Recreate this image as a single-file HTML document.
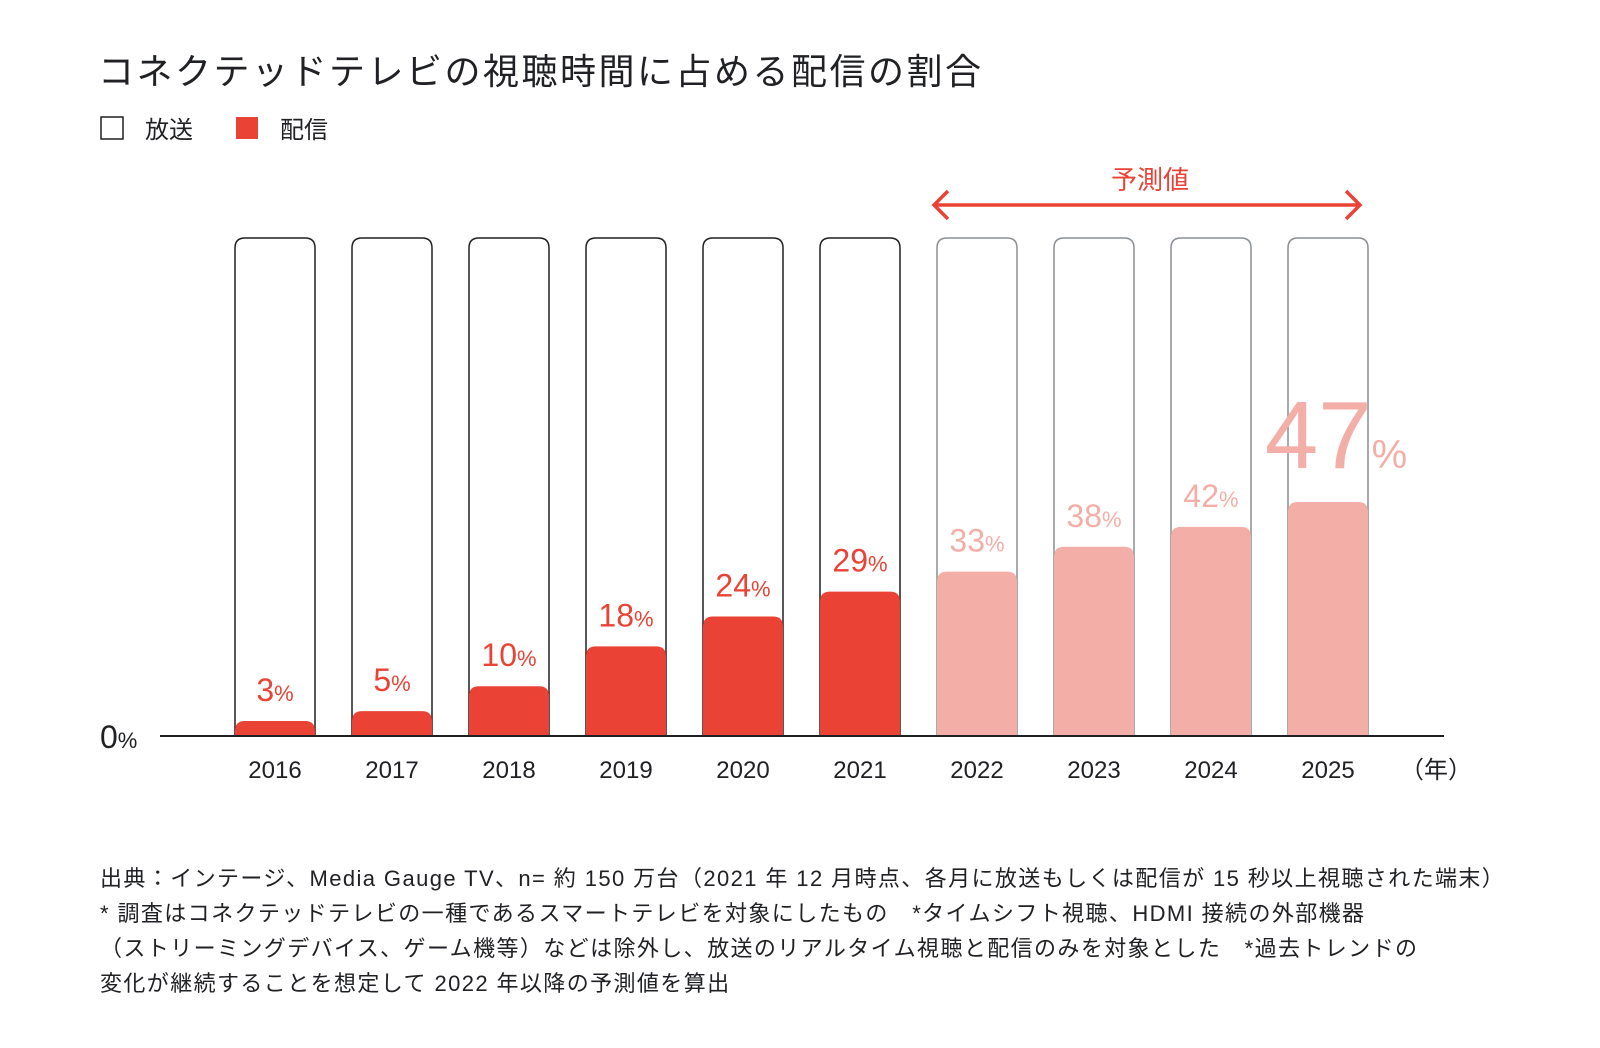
<!DOCTYPE html>
<html><head><meta charset="utf-8"><style>
body{margin:0;background:#fff;}
svg text{font-family:"Liberation Sans","Noto Sans CJK JP",sans-serif;}
</style></head><body>
<svg width="1600" height="1043" viewBox="0 0 1600 1043" xmlns="http://www.w3.org/2000/svg" id="chart">
<text x="98" y="84" font-size="36" letter-spacing="2.5" fill="#202124">コネクテッドテレビの視聴時間に占める配信の割合</text>
<g>
<rect x="101" y="117" width="22" height="22" fill="#fff" stroke="#202124" stroke-width="1.5"/>
<text x="145" y="138" font-size="24" fill="#202124">放送</text>
<rect x="236" y="117" width="22" height="22" fill="#ea4335"/>
<text x="280" y="138" font-size="24" fill="#202124">配信</text>
</g>
<g>
<text x="1150" y="189" font-size="26" fill="#ea4335" text-anchor="middle">予測値</text>
<path d="M934 205H1360M948 191L934 205L948 219M1346 191L1360 205L1346 219" stroke="#ea4335" stroke-width="3.5" fill="none"/>
</g>
<g id="bars"></g>
<line x1="160" y1="736" x2="1444" y2="736" stroke="#202124" stroke-width="2"/>
<text x="100" y="748" font-size="32" fill="#202124">0<tspan font-size="22">%</tspan></text>
<text x="1400" y="778" font-size="24" fill="#202124">（年）</text>
<g font-size="22" letter-spacing="1.4" fill="#202124">
<text x="100" y="886">出典：インテージ、Media Gauge TV、n= 約 150 万台（2021 年 12 月時点、各月に放送もしくは配信が 15 秒以上視聴された端末）</text>
<text x="100" y="921">* 調査はコネクテッドテレビの一種であるスマートテレビを対象にしたもの　*タイムシフト視聴、HDMI 接続の外部機器</text>
<text x="100" y="956">（ストリーミングデバイス、ゲーム機等）などは除外し、放送のリアルタイム視聴と配信のみを対象とした　*過去トレンドの</text>
<text x="100" y="991">変化が継続することを想定して 2022 年以降の予測値を算出</text>
</g>
</svg>
<script>
const years=["2016","2017","2018","2019","2020","2021","2022","2023","2024","2025"];
const shares=[3,5,10,18,24,29,33,38,42,47];
const forecast=[false,false,false,false,false,false,true,true,true,true];
const NS="http://www.w3.org/2000/svg";
const base=736,top100=238,x0=275,step=117,bw=80;
const y=v=>base-(base-top100)*v/100;
const xc=i=>x0+i*step;
const g=document.getElementById('bars');
function mk(t,a){const e=document.createElementNS(NS,t);for(const k in a)e.setAttribute(k,a[k]);g.appendChild(e);return e;}
years.forEach((yr,i)=>{
  const cx=xc(i),l=cx-bw/2,r=cx+bw/2,t=y(100),rr=10;
  const o=mk('path',{d:`M${l} ${base}V${t+rr}Q${l} ${t} ${l+rr} ${t}H${r-rr}Q${r} ${t} ${r} ${t+rr}V${base}`,fill:'none',stroke:forecast[i]?'#8a8f94':'#202124','stroke-width':1.5});
  
  
  const bt=y(shares[i]),br=Math.min(10,base-bt);
  const col=forecast[i]?'#f4aea8':'#ea4335';
  const b=mk('path',{d:`M${l} ${base}V${bt+br}Q${l} ${bt} ${l+br} ${bt}H${r-br}Q${r} ${bt} ${r} ${bt+br}V${base}Z`,fill:col});
  
  
  const big=i===years.length-1;
  const lt=mk('text',{x:cx,y:big?bt-34:bt-20,'font-size':big?96:32,fill:col,'text-anchor':'middle'});
  
  
  lt.appendChild(document.createTextNode(shares[i]));
  const ts=document.createElementNS(NS,'tspan');ts.setAttribute('font-size',big?40:22);ts.textContent='%';lt.appendChild(ts);
  if(big){lt.setAttribute('x',cx+8);}
  const xl=mk('text',{x:cx,y:778,'font-size':24,fill:'#202124','text-anchor':'middle'});
  
  
  xl.textContent=yr;
});
</script>
</body></html>
